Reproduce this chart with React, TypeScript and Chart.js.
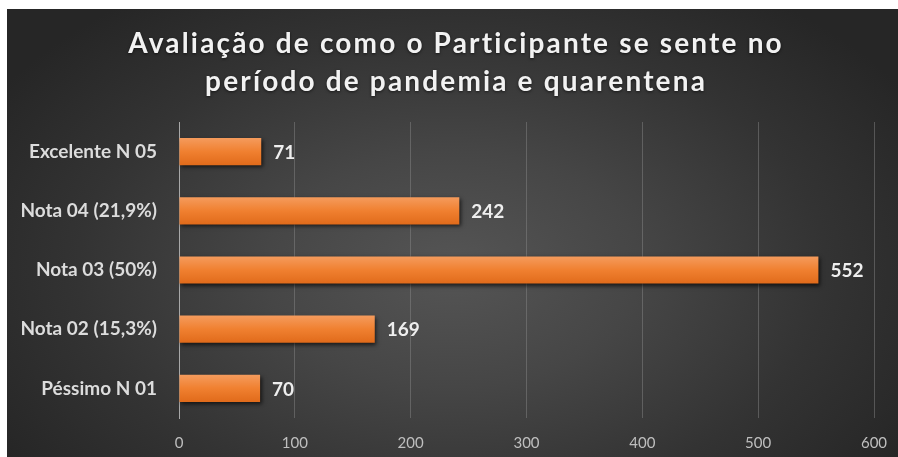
import React, { useEffect, useRef } from "react";
import { Chart, registerables } from "chart.js";

Chart.register(...registerables);

const categories = [
  "Excelente N 05",
  "Nota 04 (21,9%)",
  "Nota 03 (50%)",
  "Nota 02 (15,3%)",
  "Péssimo N 01",
];
const values = [71, 242, 552, 169, 70];
const titleLines = [
  "Avaliação de como o Participante se sente no",
  "período de pandemia e quarentena",
];
const xMin = 0;
const xMax = 600;
const xStep = 100;

const FONT = "Lato, 'Open Sans', sans-serif";

export default function App() {
  const ref = useRef<HTMLCanvasElement | null>(null);

  useEffect(() => {
    if (!ref.current) return;

    const titlePlugin = {
      id: "customTitle",
      afterDraw(chart: any) {
        const ctx = chart.ctx;
        ctx.save();
        ctx.fillStyle = "#f2f2f2";
        ctx.textAlign = "center";
        ctx.textBaseline = "alphabetic";
        ctx.shadowColor = "rgba(0,0,0,0.6)";
        ctx.shadowBlur = 3;
        ctx.shadowOffsetY = 1;
        ctx.font = `bold 28px ${FONT}`;
        (ctx as any).letterSpacing = "0px";
        const w0 = ctx.measureText(titleLines[0]).width;
        const ls = Math.max(0, (656 - w0) / titleLines[0].length);
        (ctx as any).letterSpacing = `${ls}px`;
        const cx = 448 + ls / 2;
        ctx.fillText(titleLines[0], cx, 44);
        ctx.fillText(titleLines[1], cx, 82);
        ctx.restore();
      },
    };

    const shadowPlugin = {
      id: "barShadow",
      beforeDatasetsDraw(chart: any) {
        const ctx = chart.ctx;
        ctx.save();
        ctx.shadowColor = "rgba(0,0,0,0.65)";
        ctx.shadowBlur = 4;
        ctx.shadowOffsetX = 1.5;
        ctx.shadowOffsetY = 2;
      },
      afterDatasetsDraw(chart: any) {
        chart.ctx.restore();
      },
    };

    const valueLabels = {
      id: "valueLabels",
      afterDatasetsDraw(chart: any) {
        const ctx = chart.ctx;
        const meta = chart.getDatasetMeta(0);
        ctx.save();
        ctx.fillStyle = "#eeeeee";
        ctx.font = `bold 19px ${FONT}`;
        ctx.textAlign = "left";
        ctx.textBaseline = "middle";
        meta.data.forEach((el: any, i: number) => {
          ctx.fillText(String(values[i]), el.x + 12, el.y + 1);
        });
        ctx.restore();
      },
    };

    const chart = new Chart(ref.current, {
      type: "bar",
      data: {
        labels: categories,
        datasets: [
          {
            data: values,
            backgroundColor: (c: any) => {
              const ch = c.chart;
              const ys = ch.scales && ch.scales.y;
              if (!ys || !ch.chartArea || c.dataIndex === undefined) return "#ED7D31";
              const y = ys.getPixelForValue(c.dataIndex);
              const h = 14;
              const g = ch.ctx.createLinearGradient(0, y - h, 0, y + h);
              g.addColorStop(0, "#f59c5e");
              g.addColorStop(0.5, "#f08030");
              g.addColorStop(1, "#e06a1a");
              return g;
            },
            borderWidth: 0,
            barPercentage: 0.46,
            categoryPercentage: 1,
          },
        ],
      },
      options: {
        indexAxis: "y",
        animation: false,
        responsive: true,
        maintainAspectRatio: false,
        layout: { padding: { top: 113, right: 24, left: 0, bottom: 0 } },
        plugins: {
          legend: { display: false },
          title: { display: false },
          tooltip: { enabled: false },
        },
        scales: {
          x: {
            min: xMin,
            max: xMax,
            ticks: {
              stepSize: xStep,
              color: "#bfbfbf",
              font: { family: FONT, size: 15 },
              padding: 16,
            },
            grid: { color: "rgba(140,140,140,0.45)", drawTicks: false, lineWidth: 1 },
            border: { display: false },
            afterFit(scale: any) {
              scale.height = 39;
              scale.paddingLeft = 0;
              scale.paddingRight = 0;
            },
          },
          y: {
            ticks: {
              color: "#dcdcdc",
              font: { family: FONT, size: 19, weight: "bold" },
              padding: 22,
            },
            grid: { display: false, drawTicks: false },
            border: { display: true, color: "#a8a8a8", width: 1 },
            afterFit(scale: any) {
              scale.width = 172;
              scale.paddingTop = 0;
              scale.paddingBottom = 0;
            },
          },
        },
      } as any,
      plugins: [shadowPlugin, valueLabels, titlePlugin],
    });

    return () => chart.destroy();
  }, []);

  return (
    <div
      style={{
        position: "absolute",
        left: 7,
        top: 9,
        width: 891,
        height: 448,
        background:
          "radial-gradient(ellipse 60% 75% at 50% 58%, #555555 0%, #464646 35%, #333333 70%, #262626 100%)",
      }}
    >
      <canvas ref={ref} />
    </div>
  );
}
